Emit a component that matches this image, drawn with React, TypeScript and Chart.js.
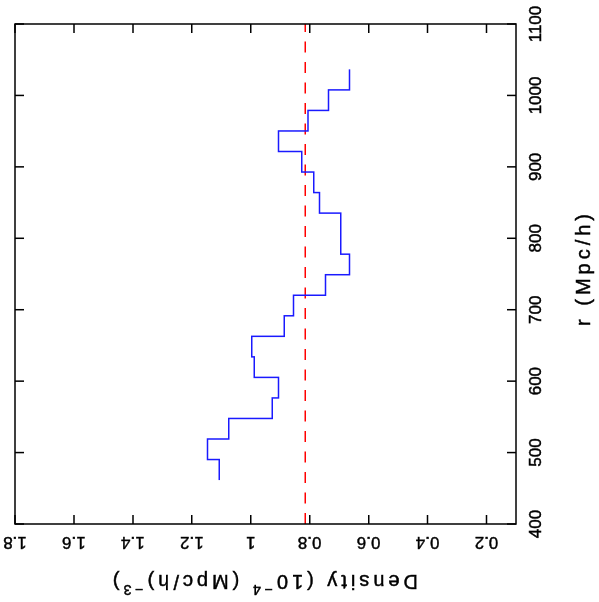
import { useEffect, useRef } from "react";
import { Chart, registerables } from "chart.js";

Chart.register(...registerables);

// r bin edges (Mpc/h) and the density measured in each bin (10^-4 (Mpc/h)^-3)
const binEdges = [
  461.5, 490.25, 519, 547.75, 576.5, 605.25, 634, 662.75, 691.5, 720.25, 749,
  777.75, 806.5, 835.25, 864, 892.75, 921.5, 950.25, 979, 1007.75, 1036.5,
];
const densityValues = [
  1.107, 1.147, 1.075, 0.927, 0.906, 0.988, 0.997, 0.886, 0.855, 0.746, 0.665,
  0.695, 0.695, 0.767, 0.786, 0.827, 0.906, 0.806, 0.736, 0.665,
];
const meanDensity = 0.815;

const rRange = [400, 1100];
const densityRange = [0.1, 1.8];
const rTicks = [400, 500, 600, 700, 800, 900, 1000, 1100];
const rTickLabels = ["400", "500", "600", "700", "800", "900", "1000", "1100"];
const densityTicks = [0.2, 0.4, 0.6, 0.8, 1.0, 1.2, 1.4, 1.6, 1.8];
const densityTickLabels = ["0.2", "0.4", "0.6", "0.8", "1", "1.2", "1.4", "1.6", "1.8"];

const rTitle = "r (Mpc/h)";
const densityTitleParts = [
  { text: "Density (10", sup: false },
  { text: "−4", sup: true },
  { text: " (Mpc/h)", sup: false },
  { text: "−3", sup: true },
  { text: ")", sup: false },
];

const FONT = '"Liberation Sans", Arial, Helvetica, sans-serif';
const TEXT_STROKE = 0.45;

function drawText(ctx: any, s: string, x: number, y: number) {
  ctx.fillText(s, x, y);
  ctx.strokeText(s, x, y);
}

const framePlugin = {
  id: "frame",
  afterDraw(chart: any) {
    const { ctx, chartArea: a, scales } = chart;
    const x = scales.x;
    const y = scales.y;
    ctx.save();
    // box
    ctx.strokeStyle = "#000";
    ctx.lineWidth = 1.5;
    ctx.strokeRect(a.left, a.top, a.right - a.left, a.bottom - a.top);
    // inward ticks on all four sides
    const tl = 9;
    ctx.beginPath();
    for (const v of rTicks) {
      const px = x.getPixelForValue(v);
      ctx.moveTo(px, a.bottom);
      ctx.lineTo(px, a.bottom - tl);
      ctx.moveTo(px, a.top);
      ctx.lineTo(px, a.top + tl);
    }
    for (const v of densityTicks) {
      const py = y.getPixelForValue(v);
      ctx.moveTo(a.left, py);
      ctx.lineTo(a.left + tl, py);
      ctx.moveTo(a.right, py);
      ctx.lineTo(a.right - tl, py);
    }
    ctx.stroke();

    // density tick labels (written parallel to the axis)
    ctx.fillStyle = "#000";
    ctx.lineWidth = TEXT_STROKE;
    ctx.font = `17px ${FONT}`;
    ctx.textAlign = "center";
    ctx.textBaseline = "alphabetic";
    densityTicks.forEach((v, i) => {
      const py = y.getPixelForValue(v);
      ctx.save();
      ctx.translate(a.left - 12.7, py);
      ctx.rotate(-Math.PI / 2);
      drawText(ctx, densityTickLabels[i], 0, 0);
      ctx.restore();
    });

    // density axis title with superscripts
    const mainSize = 20;
    const supSize = 14;
    const spacing = 4;
    ctx.textAlign = "left";
    (ctx as any).letterSpacing = `${spacing}px`;
    const widths = densityTitleParts.map((p) => {
      ctx.font = `${p.sup ? supSize : mainSize}px ${FONT}`;
      return ctx.measureText(p.text).width;
    });
    const total = widths.reduce((s, w) => s + w, 0) - spacing;
    ctx.save();
    ctx.translate(27, (a.top + a.bottom) / 2);
    ctx.rotate(-Math.PI / 2);
    let cx = -total / 2;
    densityTitleParts.forEach((p, i) => {
      ctx.font = `${p.sup ? supSize : mainSize}px ${FONT}`;
      drawText(ctx, p.text, cx, p.sup ? -10 : 0);
      cx += widths[i];
    });
    ctx.restore();

    // r axis title
    ctx.font = `${mainSize}px ${FONT}`;
    const w = ctx.measureText(rTitle).width - spacing;
    drawText(ctx, rTitle, (a.left + a.right) / 2 + 4 - w / 2, 589.5);
    ctx.restore();
  },
};

export default function App() {
  const ref = useRef<HTMLCanvasElement>(null);
  useEffect(() => {
    const histogram = binEdges.map((e, i) => ({
      x: e,
      y: densityValues[Math.min(i, densityValues.length - 1)],
    }));
    const meanLine = rRange.map((r) => ({ x: r, y: meanDensity }));
    const chart = new Chart(ref.current as HTMLCanvasElement, {
      type: "line",
      data: {
        datasets: [
          {
            data: histogram,
            borderColor: "#1a1aff",
            borderWidth: 1.5,
            stepped: true,
            pointRadius: 0,
            fill: false,
          },
          {
            data: meanLine,
            borderColor: "#ff0000",
            borderWidth: 1.5,
            borderDash: [11, 9.5],
            pointRadius: 0,
            fill: false,
          },
        ],
      },
      options: {
        animation: false,
        responsive: false,
        devicePixelRatio: 1,
        layout: { padding: { top: 15, right: 24, left: 0, bottom: 0 } },
        plugins: { legend: { display: false }, tooltip: { enabled: false } },
        scales: {
          x: {
            type: "linear",
            position: "bottom",
            min: rRange[0],
            max: rRange[1],
            grid: { display: false, drawTicks: false },
            border: { display: false },
            ticks: {
              color: "#000",
              textStrokeColor: "#000",
              textStrokeWidth: TEXT_STROKE,
              font: { family: FONT, size: 17 },
              padding: 10,
              maxRotation: 0,
              autoSkip: false,
              callback: (_v: any, i: number) => rTickLabels[i],
            },
            afterBuildTicks: (s: any) => {
              s.ticks = rTicks.map((v) => ({ value: v }));
            },
            afterFit: (s: any) => {
              s.height = 83;
              s.paddingLeft = 0;
              s.paddingRight = 0;
            },
          },
          y: {
            type: "linear",
            position: "left",
            min: densityRange[0],
            max: densityRange[1],
            grid: { display: false, drawTicks: false },
            border: { display: false },
            ticks: { display: false },
            afterBuildTicks: (s: any) => {
              s.ticks = densityTicks.map((v) => ({ value: v }));
            },
            afterFit: (s: any) => {
              s.width = 78;
              s.paddingTop = 0;
              s.paddingBottom = 0;
            },
          },
        },
      },
      plugins: [framePlugin],
    } as any);
    return () => chart.destroy();
  }, []);

  return (
    <div
      style={{
        position: "fixed",
        left: 0,
        top: 0,
        width: 599,
        height: 602,
        overflow: "hidden",
        background: "#fff",
      }}
    >
      <div
        style={{
          position: "absolute",
          left: 0,
          top: 0,
          width: 602,
          height: 599,
          transformOrigin: "0 0",
          transform: "translate(0px, 602px) rotate(-90deg)",
        }}
      >
        <canvas ref={ref} width={602} height={599} style={{ display: "block", width: 602, height: 599 }} />
      </div>
    </div>
  );
}
